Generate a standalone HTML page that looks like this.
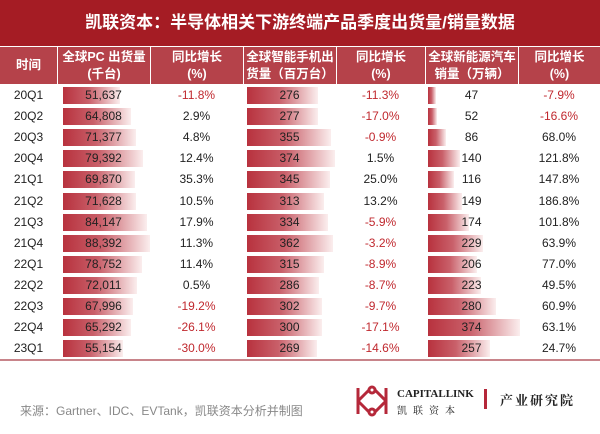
<!DOCTYPE html><html><head><meta charset="utf-8"><style>
body{margin:0;width:600px;height:434px;background:#fff;font-family:"Liberation Sans","Noto Sans CJK SC",sans-serif;position:relative;overflow:hidden}
.title{position:absolute;left:0;top:0;width:600px;height:46px;background:#a51c24;color:#fff;font-size:17px;font-weight:bold;text-align:center;line-height:46px}
.hdr{position:absolute;top:47px;height:37px;background:#b5424a;color:#fff;font-size:12.5px;font-weight:bold;text-align:center;line-height:17px;display:flex;align-items:center;justify-content:center;box-sizing:border-box;border-left:1px solid #fff}
.cell{position:absolute;height:21px;line-height:21px;font-size:12px;text-align:center;color:#222}
.neg{color:#c0282e}
.bar{position:absolute;height:17px;background:linear-gradient(to right,#b8323e,#c9606a 45%,#fbeeee)}
.line{position:absolute;left:0;top:359px;width:600px;height:2px;background:#c8848a}
.foot{position:absolute;left:20px;top:402px;font-size:12px;color:#888}
</style></head><body>
<div class="title">凯联资本：半导体相关下游终端产品季度出货量/销量数据</div>
<div class="hdr" style="left:0;width:57px;border-left:none">时间</div>
<div class="hdr" style="left:57px;width:93px">全球PC 出货量<br>(千台)</div>
<div class="hdr" style="left:150px;width:93px">同比增长<br>(%)</div>
<div class="hdr" style="left:243px;width:93px">全球智能手机出<br>货量（百万台）</div>
<div class="hdr" style="left:336px;width:89px">同比增长<br>(%)</div>
<div class="hdr" style="left:425px;width:93px">全球新能源汽车<br>销量（万辆）</div>
<div class="hdr" style="left:518px;width:82px">同比增长<br>(%)</div>
<div id="rows"></div>
<div class="line"></div>
<div class="foot">来源：Gartner、IDC、EVTank，凯联资本分析并制图</div>
<svg style="position:absolute;left:355px;top:384px" width="34" height="34" viewBox="0 0 34 34"><g fill="none" stroke="#b5283a" stroke-width="3"><path d="M3 4V30M3 17L14 6M3 17L14 28M31 4V30M31 17L20 6M31 17L20 28"/><circle cx="17" cy="6" r="3"/><circle cx="17" cy="28" r="3"/></g></svg>
<div style="position:absolute;left:397px;top:388px;font-family:'Liberation Serif',serif;font-size:11px;font-weight:bold;color:#222">CAPITALLINK</div>
<div style="position:absolute;left:397px;top:402px;font-family:'Noto Serif CJK SC',serif;font-size:10px;letter-spacing:6px;color:#222">凯联资本</div>
<div style="position:absolute;left:484px;top:389px;width:3px;height:20px;background:#b5283a"></div>
<div style="position:absolute;left:500px;top:390px;font-family:'Noto Serif CJK SC',serif;font-size:13px;font-weight:bold;letter-spacing:2px;color:#222">产业研究院</div>
<script>
const d=[["20Q1","51,637","-11.8%","276","-11.3%","47","-7.9%"],["20Q2","64,808","2.9%","277","-17.0%","52","-16.6%"],["20Q3","71,377","4.8%","355","-0.9%","86","68.0%"],["20Q4","79,392","12.4%","374","1.5%","140","121.8%"],["21Q1","69,870","35.3%","345","25.0%","116","147.8%"],["21Q2","71,628","10.5%","313","13.2%","149","186.8%"],["21Q3","84,147","17.9%","334","-5.9%","174","101.8%"],["21Q4","88,392","11.3%","362","-3.2%","229","63.9%"],["22Q1","78,752","11.4%","315","-8.9%","206","77.0%"],["22Q2","72,011","0.5%","286","-8.7%","223","49.5%"],["22Q3","67,996","-19.2%","302","-9.7%","280","60.9%"],["22Q4","65,292","-26.1%","300","-17.1%","374","63.1%"],["23Q1","55,154","-30.0%","269","-14.6%","257","24.7%"]];
let h="";d.forEach((r,i)=>{const y=85+i*21.1;
const pc=+r[1].replace(",","");
h+=`<div class="bar" style="left:63px;top:${y+2}px;width:${15+pc*0.000816}px"></div>`;
h+=`<div class="bar" style="left:247px;top:${y+2}px;width:${23+ +r[3]*0.173}px"></div>`;
h+=`<div class="bar" style="left:428px;top:${y+2}px;width:${Math.max(6,-4+ +r[5]*0.257)}px"></div>`;
const L=[[0,57],[57,93],[150,93],[243,93],[336,89],[425,93],[518,82]];
r.forEach((t,j)=>{h+=`<div class="cell${t[0]=='-'?' neg':''}" style="left:${L[j][0]}px;width:${L[j][1]}px;top:${y}px">${t}</div>`});});
document.getElementById("rows").innerHTML=h;
</script>
</body></html>
